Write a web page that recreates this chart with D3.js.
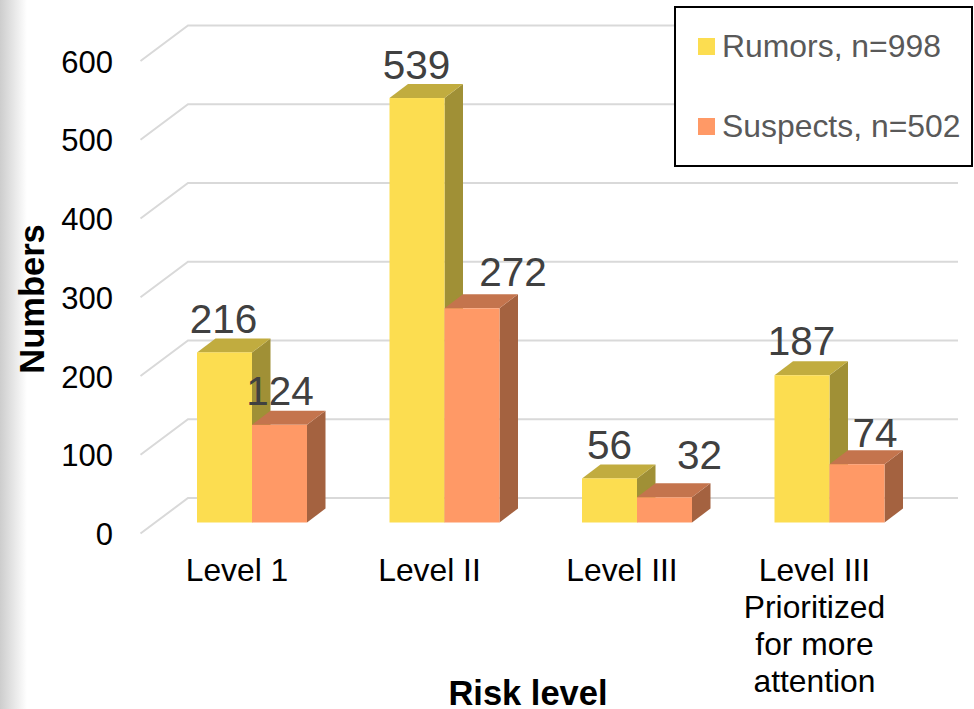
<!DOCTYPE html>
<html><head><meta charset="utf-8">
<script src="https://cdn.jsdelivr.net/npm/d3@7"></script>
<style>html,body{margin:0;padding:0;background:#fff}svg{display:block}text{font-family:"Liberation Sans",Arial,sans-serif}</style>
</head><body><div id="c"></div>
<script>
const categories = ["Level 1","Level II","Level III","Level III|Prioritized|for more|attention"];
const seriesNames = ["Rumors, n=998","Suspects, n=502"];
const rumors = [216,539,56,187];
const suspects = [124,272,32,74];
const tickValues = [0,100,200,300,400,500,600];
const colors = {front:["#FCDD50","#FF9966"],top:["#C1AC3F","#C4744D"],side:["#A09036","#A46240"]};

const W=974,H=709, floorY=522.5, depthY=-35.5, barDX=18.5, barDY=-14;
const svg=d3.select("#c").append("svg").attr("width",W).attr("height",H);
const defs=svg.append("defs");
const g=defs.append("linearGradient").attr("id","sh");
g.append("stop").attr("offset",0).attr("stop-color","#cdcdcd");
g.append("stop").attr("offset",1).attr("stop-color","#ffffff");
svg.append("rect").attr("width",27).attr("height",H).attr("fill","url(#sh)");

const y=d3.scaleLinear().domain([0,600]).range([0,-472.5]);
const x0=d3.scaleBand().domain(categories).range([155.75,925.75]);
const x1=d3.scaleBand().domain([0,1]).range([0,x0.bandwidth()]).paddingInner(0).paddingOuter(0.75);

const frontY=533.5;
tickValues.forEach(t=>{
  const yf=frontY+y(t), yb=yf+depthY;
  svg.append("path").attr("d",`M140.5,${yf}L188,${yb}L958,${yb}`).attr("fill","none").attr("stroke","#d9d9d9").attr("stroke-width",2);
  svg.append("text").attr("x",113).attr("y",yf+11.5).attr("text-anchor","end").attr("font-size",31).attr("fill","#000").text(t);
});

const all=[rumors,suspects];
function bar(cat,i,s){
  const v=all[s][i], bx=x0(cat)+x1(s), w=x1.bandwidth(), b=floorY, t=floorY+y(v);
  const gg=svg.append("g");
  gg.append("path").attr("d",`M${bx+w},${b}L${bx+w+barDX},${b+barDY}L${bx+w+barDX},${t+barDY}L${bx+w},${t}Z`).attr("fill",colors.side[s]);
  gg.append("path").attr("d",`M${bx},${t}L${bx+barDX},${t+barDY}L${bx+w+barDX},${t+barDY}L${bx+w},${t}Z`).attr("fill",colors.top[s]);
  gg.append("rect").attr("x",bx).attr("y",t).attr("width",w).attr("height",b-t).attr("fill",colors.front[s]);
}
categories.forEach((c,i)=>{bar(c,i,0);bar(c,i,1);});
categories.forEach((c,i)=>{[0,1].forEach(s=>{
  const v=all[s][i], bx=x0(c)+x1(s)+x1.bandwidth()/2, t=floorY+y(v);
  const o=[[[-1,0],[0.5,-1]],[[-0.5,0],[41,-3]],[[0,0],[35,-9]],[[-0.5,-1],[18,2]]][i][s];
  svg.append("text").attr("x",bx+o[0]).attr("y",t-19+o[1]).attr("text-anchor","middle").attr("font-size",40.5).attr("fill","#404040").text(v);
});});

categories.forEach(c=>{
  const cx=x0(c)+x0.bandwidth()/2-15;
  c.split("|").forEach((l,j)=>{
    svg.append("text").attr("x",cx).attr("y",580.5+j*37).attr("text-anchor","middle").attr("font-size",31.8).attr("fill","#000").text(l);
  });
});

svg.append("text").attr("x",528).attr("y",705).attr("text-anchor","middle").attr("font-size",34.5).attr("font-weight","bold").attr("fill","#000").text("Risk level");
svg.append("text").attr("transform","translate(44,299) rotate(-90)").attr("text-anchor","middle").attr("font-size",34.5).attr("font-weight","bold").attr("fill","#000").text("Numbers");

svg.append("rect").attr("x",675).attr("y",7).attr("width",297).attr("height",159).attr("fill","#fff").attr("stroke","#000").attr("stroke-width",2);
seriesNames.forEach((n,i)=>{
  const yy=[55,135][i];
  svg.append("rect").attr("x",698).attr("y",yy-17).attr("width",17).attr("height",17).attr("fill",colors.front[i]);
  svg.append("text").attr("x",722).attr("y",yy+2).attr("font-size",31.9).attr("fill","#595959").text(n);
});
</script></body></html>
